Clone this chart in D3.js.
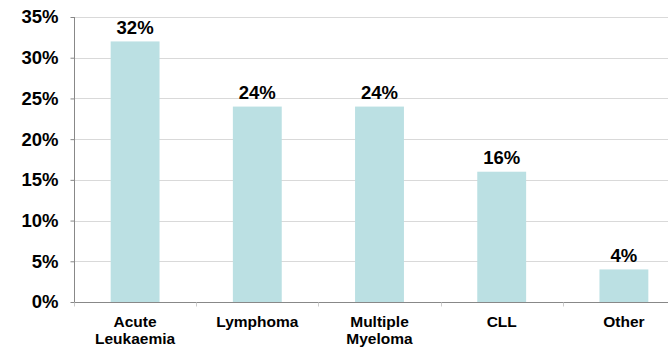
<!DOCTYPE html>
<html>
<head>
<meta charset="utf-8">
<script src="https://cdn.jsdelivr.net/npm/d3@7"></script>
<style>
  html, body { margin: 0; padding: 0; background: #fff; }
  svg { display: block; }
  text { font-family: "Liberation Sans", Arial, sans-serif; font-weight: bold; fill: #000; }
</style>
</head>
<body>
<svg id="chart" width="668" height="349"></svg>
<script>
// Share of cases by diagnosis group
const categories = ["Acute\nLeukaemia", "Lymphoma", "Multiple\nMyeloma", "CLL", "Other"];
const values = [32, 24, 24, 16, 4];
const yTicks = [0, 5, 10, 15, 20, 25, 30, 35];

const svg = d3.select("#chart");
const margin = { left: 74, top: 17, bottom: 47 };
const plotW = 611;           // plot runs past the right edge of the canvas
const height = 349;
const y0 = height - margin.bottom;

const x = d3.scaleBand()
  .domain(categories)
  .range([margin.left, margin.left + plotW])
  .paddingInner(0.6)
  .paddingOuter(0.3);

const y = d3.scaleLinear().domain([0, 35]).range([y0, margin.top]);

// horizontal gridlines
svg.append("g")
  .selectAll("line")
  .data(yTicks.filter(d => d > 0))
  .join("line")
  .attr("x1", margin.left).attr("x2", margin.left + plotW)
  .attr("y1", d => Math.round(y(d)) + 0.5).attr("y2", d => Math.round(y(d)) + 0.5)
  .attr("stroke", "#d9d9d9").attr("stroke-width", 1);

// bars
svg.append("g")
  .selectAll("rect")
  .data(values)
  .join("rect")
  .attr("x", (d, i) => x(categories[i]))
  .attr("width", x.bandwidth())
  .attr("y", d => y(d))
  .attr("height", d => y0 - y(d))
  .attr("fill", "#bbe0e3");

// value labels
svg.append("g")
  .selectAll("text")
  .data(values)
  .join("text")
  .attr("x", (d, i) => x(categories[i]) + x.bandwidth() / 2)
  .attr("y", d => y(d) - 7.5)
  .attr("text-anchor", "middle")
  .attr("font-size", 18.5)
  .text(d => d + "%");

// y axis
const yAxis = d3.axisLeft(y)
  .tickValues(yTicks)
  .tickSize(4)
  .tickPadding(12)
  .tickFormat(d => d + "%");
const gy = svg.append("g")
  .attr("transform", `translate(${margin.left + 0.5},0)`)
  .call(yAxis);
gy.select(".domain").attr("stroke", "#888").attr("d", `M0,${y(35)}V${y0}`);
gy.selectAll(".tick line").attr("stroke", "#888");
gy.selectAll(".tick text")
  .attr("font-size", 18.5)
  .attr("font-family", "'Liberation Sans', Arial, sans-serif")
  .attr("font-weight", "bold")
  .attr("fill", "#000");

// x axis baseline and boundary ticks
const gx = svg.append("g").attr("transform", `translate(0,${y0 + 0.5})`);
gx.append("line")
  .attr("x1", margin.left).attr("x2", margin.left + plotW)
  .attr("stroke", "#888");
const bounds = d3.range(categories.length + 1).map(i => margin.left + i * plotW / categories.length);
gx.selectAll("line.tk")
  .data(bounds)
  .join("line")
  .attr("class", "tk")
  .attr("x1", d => Math.round(d) + 0.5).attr("x2", d => Math.round(d) + 0.5)
  .attr("y1", 0).attr("y2", 4)
  .attr("stroke", "#ccc");

// category labels (multi-line)
const lbl = svg.append("g")
  .selectAll("text")
  .data(categories)
  .join("text")
  .attr("text-anchor", "middle")
  .attr("font-size", 15.5)
  .attr("x", d => x(d) + x.bandwidth() / 2)
  .attr("y", y0 + 25);
lbl.each(function (d) {
  const t = d3.select(this);
  d.split("\n").forEach((line, i) => {
    t.append("tspan")
      .attr("x", x(d) + x.bandwidth() / 2)
      .attr("dy", i === 0 ? 0 : 16.5)
      .text(line);
  });
});
</script>
</body>
</html>
